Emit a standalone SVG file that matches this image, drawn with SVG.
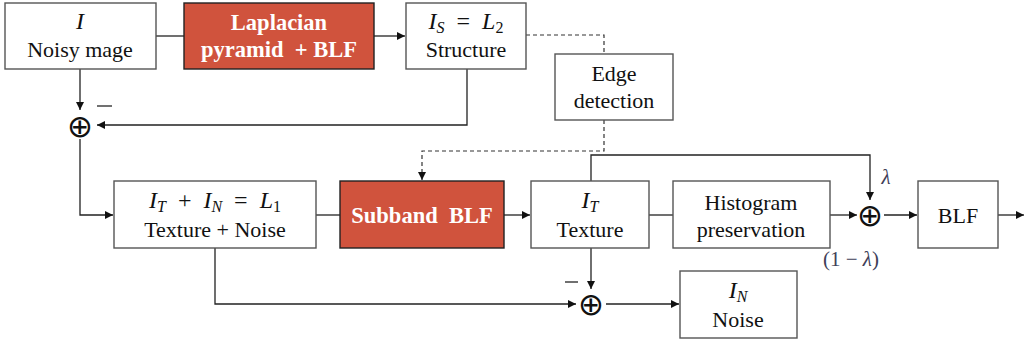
<svg xmlns="http://www.w3.org/2000/svg" width="1024" height="344" viewBox="0 0 1024 344">
  <defs>
    <style>
      .box { fill: #ffffff; stroke: #555555; stroke-width: 1.4; }
      .hot { fill: #D0533D; stroke: #222222; stroke-width: 1.4; }
      .t { font-family: "Liberation Serif", "Times New Roman", serif; font-size: 22px; fill: #111111; text-anchor: middle; white-space: pre; }
      .m { font-style: italic; }
      .eq { font-size: 24px; }
      .sub { font-size: 16px; }
      .w { font-weight: bold; fill: #ffffff; font-size: 22.5px; }
      .lam { font-family: "Liberation Serif", serif; font-size: 21px; fill: #404058; text-anchor: middle; }
      .sum { font-family: "DejaVu Sans", sans-serif; font-size: 31px; fill: #111111; text-anchor: middle; dominant-baseline: central; }
      .ln { fill: none; stroke: #222222; stroke-width: 1.3; }
      .dash { fill: none; stroke: #333333; stroke-width: 1.2; stroke-dasharray: 4 3; }
    </style>
    <marker id="arr" viewBox="0 0 10 10" refX="10" refY="5" markerWidth="8" markerHeight="8" markerUnits="userSpaceOnUse" orient="auto">
      <path d="M0,0 L10,5 L0,10 z" fill="#111111"/>
    </marker>
  </defs>

  <!-- connectors -->
  <g id="connectors">
    <line class="ln" x1="156" y1="36" x2="184" y2="36"/>
    <line class="ln" x1="374" y1="36" x2="405" y2="36" marker-end="url(#arr)"/>
    <line class="ln" x1="80" y1="69" x2="80" y2="110" marker-end="url(#arr)"/>
    <polyline class="ln" points="467,69 467,125 97,125" marker-end="url(#arr)"/>
    <polyline class="ln" points="80,139 80,215 113,215" marker-end="url(#arr)"/>
    <polyline class="dash" points="526,35 604,35 604,54"/>
    <polyline class="dash" points="604,120 604,151 422,151 422,180" marker-end="url(#arr)"/>
    <line class="ln" x1="316" y1="215" x2="340" y2="215"/>
    <line class="ln" x1="504" y1="215" x2="530" y2="215" marker-end="url(#arr)"/>
    <line class="ln" x1="649" y1="215" x2="673" y2="215"/>
    <line class="ln" x1="830" y1="215" x2="857" y2="215" marker-end="url(#arr)"/>
    <line class="ln" x1="884" y1="215" x2="917" y2="215" marker-end="url(#arr)"/>
    <line class="ln" x1="998" y1="215" x2="1024" y2="215" marker-end="url(#arr)"/>
    <polyline class="ln" points="591,181 591,155 870,155 870,200" marker-end="url(#arr)"/>
    <line class="ln" x1="591" y1="248" x2="591" y2="289" marker-end="url(#arr)"/>
    <polyline class="ln" points="215,248 215,304 576,304" marker-end="url(#arr)"/>
    <line class="ln" x1="606" y1="304" x2="679" y2="304" marker-end="url(#arr)"/>
  </g>

  <!-- summing junctions -->
  <g id="sum-top">
    <text class="sum" x="80" y="126">⊕</text>
    <line x1="97" y1="106" x2="112" y2="106" stroke="#111" stroke-width="1.2"/>
  </g>
  <g id="sum-mix">
    <text class="sum" x="870" y="215">⊕</text>
    <text class="lam m" x="886" y="184">λ</text>
    <text class="lam" x="851" y="266">(1 − <tspan class="m">λ</tspan>)</text>
  </g>
  <g id="sum-noise">
    <text class="sum" x="591" y="304">⊕</text>
    <line x1="565" y1="282" x2="578" y2="282" stroke="#111" stroke-width="1.2"/>
  </g>

  <!-- nodes -->
  <g id="noisy">
    <rect class="box" x="5" y="3" width="151" height="66"/>
    <text class="t m eq" x="80" y="29">I</text>
    <text class="t" x="80" y="57">Noisy mage</text>
  </g>
  <g id="laplacian">
    <rect class="hot" x="184" y="3" width="190" height="66"/>
    <text class="t w" x="279" y="30">Laplacian</text>
    <text class="t w" x="279" y="57">pyramid  + BLF</text>
  </g>
  <g id="structure">
    <rect class="box" x="406" y="3" width="120" height="66"/>
    <text class="t eq" x="466" y="29"><tspan class="m">I</tspan><tspan class="sub m" dy="4">S</tspan><tspan dy="-4">  =  </tspan><tspan class="m">L</tspan><tspan class="sub" dy="4">2</tspan></text>
    <text class="t" x="466" y="57">Structure</text>
  </g>
  <g id="edge">
    <rect class="box" x="555" y="54" width="118" height="66"/>
    <text class="t" x="614" y="81">Edge</text>
    <text class="t" x="614" y="108">detection</text>
  </g>
  <g id="texture-noise">
    <rect class="box" x="114" y="181" width="202" height="67"/>
    <text class="t eq" x="215" y="208"><tspan class="m">I</tspan><tspan class="sub m" dy="4">T</tspan><tspan dy="-4">  +  </tspan><tspan class="m">I</tspan><tspan class="sub m" dy="4">N</tspan><tspan dy="-4">  =  </tspan><tspan class="m">L</tspan><tspan class="sub" dy="4">1</tspan></text>
    <text class="t" x="215" y="237">Texture + Noise</text>
  </g>
  <g id="subband">
    <rect class="hot" x="340" y="181" width="164" height="67"/>
    <text class="t w" x="422" y="223">Subband  BLF</text>
  </g>
  <g id="texture">
    <rect class="box" x="531" y="181" width="118" height="67"/>
    <text class="t eq" x="590" y="208"><tspan class="m">I</tspan><tspan class="sub m" dy="4">T</tspan></text>
    <text class="t" x="590" y="237">Texture</text>
  </g>
  <g id="histogram">
    <rect class="box" x="673" y="181" width="157" height="67"/>
    <text class="t" x="751" y="210">Histogram</text>
    <text class="t" x="751" y="237">preservation</text>
  </g>
  <g id="blf">
    <rect class="box" x="918" y="181" width="80" height="67"/>
    <text class="t" x="958" y="223">BLF</text>
  </g>
  <g id="noise">
    <rect class="box" x="680" y="271" width="117" height="67"/>
    <text class="t eq" x="738" y="298"><tspan class="m">I</tspan><tspan class="sub m" dy="4">N</tspan></text>
    <text class="t" x="738" y="327">Noise</text>
  </g>
</svg>
